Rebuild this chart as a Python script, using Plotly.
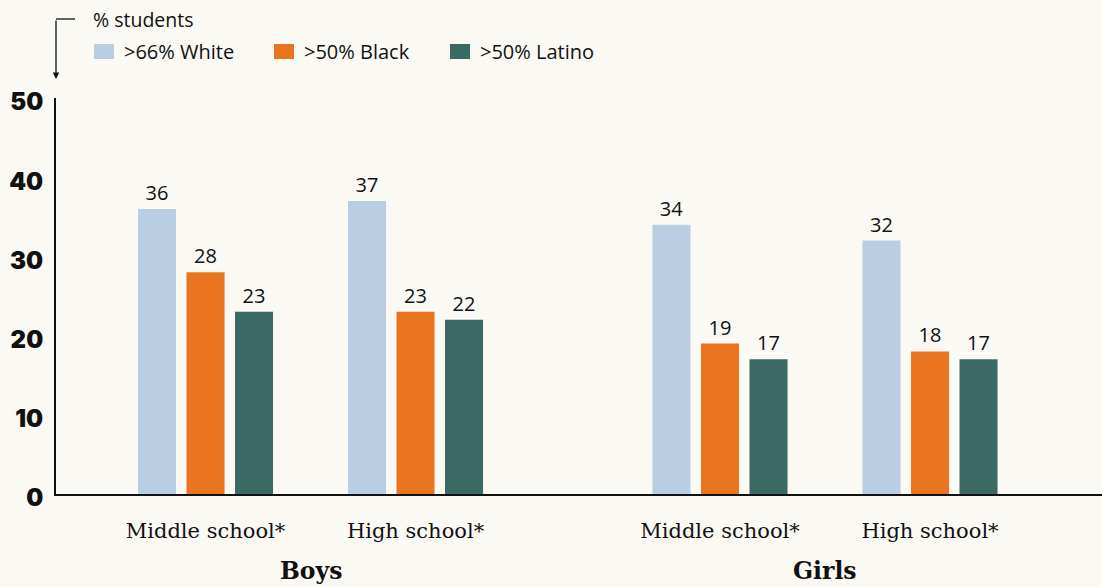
import plotly.graph_objects as go

groups = ["Boys", "Boys", "Girls", "Girls"]
levels = ["Middle school*", "High school*", "Middle school*", "High school*"]
series_names = [">66% White", ">50% Black", ">50% Latino"]
white = [36, 37, 34, 32]
black = [28, 23, 19, 18]
latino = [23, 22, 17, 17]
y_ticks = [0, 10, 20, 30, 40, 50]

colors = ["#b9cde3", "#ea7520", "#3b6963"]
BG = "#faf9f4"
INK = "#111111"

# positions: within-gender spacing 1, extra gap between genders
gap_between = 1.45
xpos = []
prev = None
cur = 0.0
for i, g in enumerate(groups):
    if i == 0:
        cur = 0.0
    elif g != prev:
        cur += gap_between
    else:
        cur += 1.0
    xpos.append(cur)
    prev = g

fig = go.Figure()
for name, vals, col in zip(series_names, [white, black, latino], colors):
    fig.add_trace(go.Bar(
        x=xpos, y=vals, name=name, marker=dict(color=col, line=dict(width=0)),
        text=[str(v) for v in vals], textposition="outside", cliponaxis=False,
        textfont=dict(family="Open Sans", size=20, color=INK, weight=500),
        showlegend=False,
    ))

W, H = 1102, 587
L, R, T, B = 56, 0, 98, 93
plot_w = W - L - R
plot_h = H - T - B
x0 = xpos[0] - 0.712
x1 = xpos[-1] + 0.819

def px_to_paper_x(px):
    return (px - L) / plot_w

def px_to_paper_y(py):
    return (H - B - py) / plot_h

annotations = []
shapes = []
for g in dict.fromkeys(groups):
    xs = [x for x, gg in zip(xpos, groups) if gg == g]
    annotations.append(dict(
        x=sum(xs) / len(xs), xref="x", y=px_to_paper_y(571), yref="paper",
        text="<b>%s</b>" % g, showarrow=False, xanchor="center", yanchor="middle",
        font=dict(family="DejaVu Serif", size=23.5, color=INK),
    ))

# axis title with bent arrow
annotations.append(dict(
    x=px_to_paper_x(91), xref="paper", y=px_to_paper_y(20), yref="paper",
    text="% students", showarrow=False, xanchor="left", yanchor="middle",
    font=dict(family="Open Sans", size=19.5, color=INK),
))
annotations.append(dict(
    x=0, xref="paper", y=px_to_paper_y(79), yref="paper",
    ax=0, ay=-60, axref="pixel", ayref="pixel", text="", showarrow=True,
    arrowhead=2, arrowsize=1, arrowwidth=1.3, arrowcolor=INK,
))
shapes.append(dict(
    type="line", xref="paper", yref="paper",
    x0=0, x1=px_to_paper_x(75), y0=px_to_paper_y(19), y1=px_to_paper_y(19),
    line=dict(color=INK, width=1.3),
))

# legend (swatch + label)
legend_left_px = [94, 274, 450]
sw_w, sw_h, leg_cy = 20, 15, 51.5
for name, col, lx in zip(series_names, colors, legend_left_px):
    shapes.append(dict(
        type="rect", xref="paper", yref="paper",
        x0=px_to_paper_x(lx), x1=px_to_paper_x(lx + sw_w),
        y0=px_to_paper_y(leg_cy - sw_h / 2), y1=px_to_paper_y(leg_cy + sw_h / 2),
        fillcolor=col, line=dict(width=0),
    ))
    annotations.append(dict(
        x=px_to_paper_x(lx + sw_w + 8), xref="paper", y=px_to_paper_y(leg_cy), yref="paper",
        text=name, showarrow=False, xanchor="left", yanchor="middle",
        font=dict(family="Open Sans", size=20, color=INK),
    ))

fig.update_layout(
    width=W, height=H,
    margin=dict(l=L, r=R, t=T, b=B, pad=0),
    paper_bgcolor=BG, plot_bgcolor=BG,
    barmode="group", bargap=0.307, bargroupgap=0.216,
    showlegend=False,
    xaxis=dict(
        range=[x0, x1], tickvals=xpos, ticktext=levels, showgrid=False, zeroline=False,
        showline=True, linecolor=INK, linewidth=2,
        ticks="outside", ticklen=17, tickcolor="rgba(0,0,0,0)",
        tickfont=dict(family="DejaVu Serif", size=21, color=INK),
    ),
    yaxis=dict(
        range=[0, 50], tickvals=y_ticks, ticktext=[str(t) for t in y_ticks],
        showgrid=False, zeroline=False, showline=True, linecolor=INK, linewidth=2,
        ticks="outside", ticklen=6, tickcolor="rgba(0,0,0,0)", ticklabelshift=4,
        tickfont=dict(family="Inter", size=24, color=INK, weight=900),
    ),
    annotations=annotations, shapes=shapes,
)

fig.write_html(
    "out.html",
    config={"displayModeBar": False},
    post_script="document.body.style.margin='0';document.body.style.padding='0';document.body.style.overflow='hidden';",
)
